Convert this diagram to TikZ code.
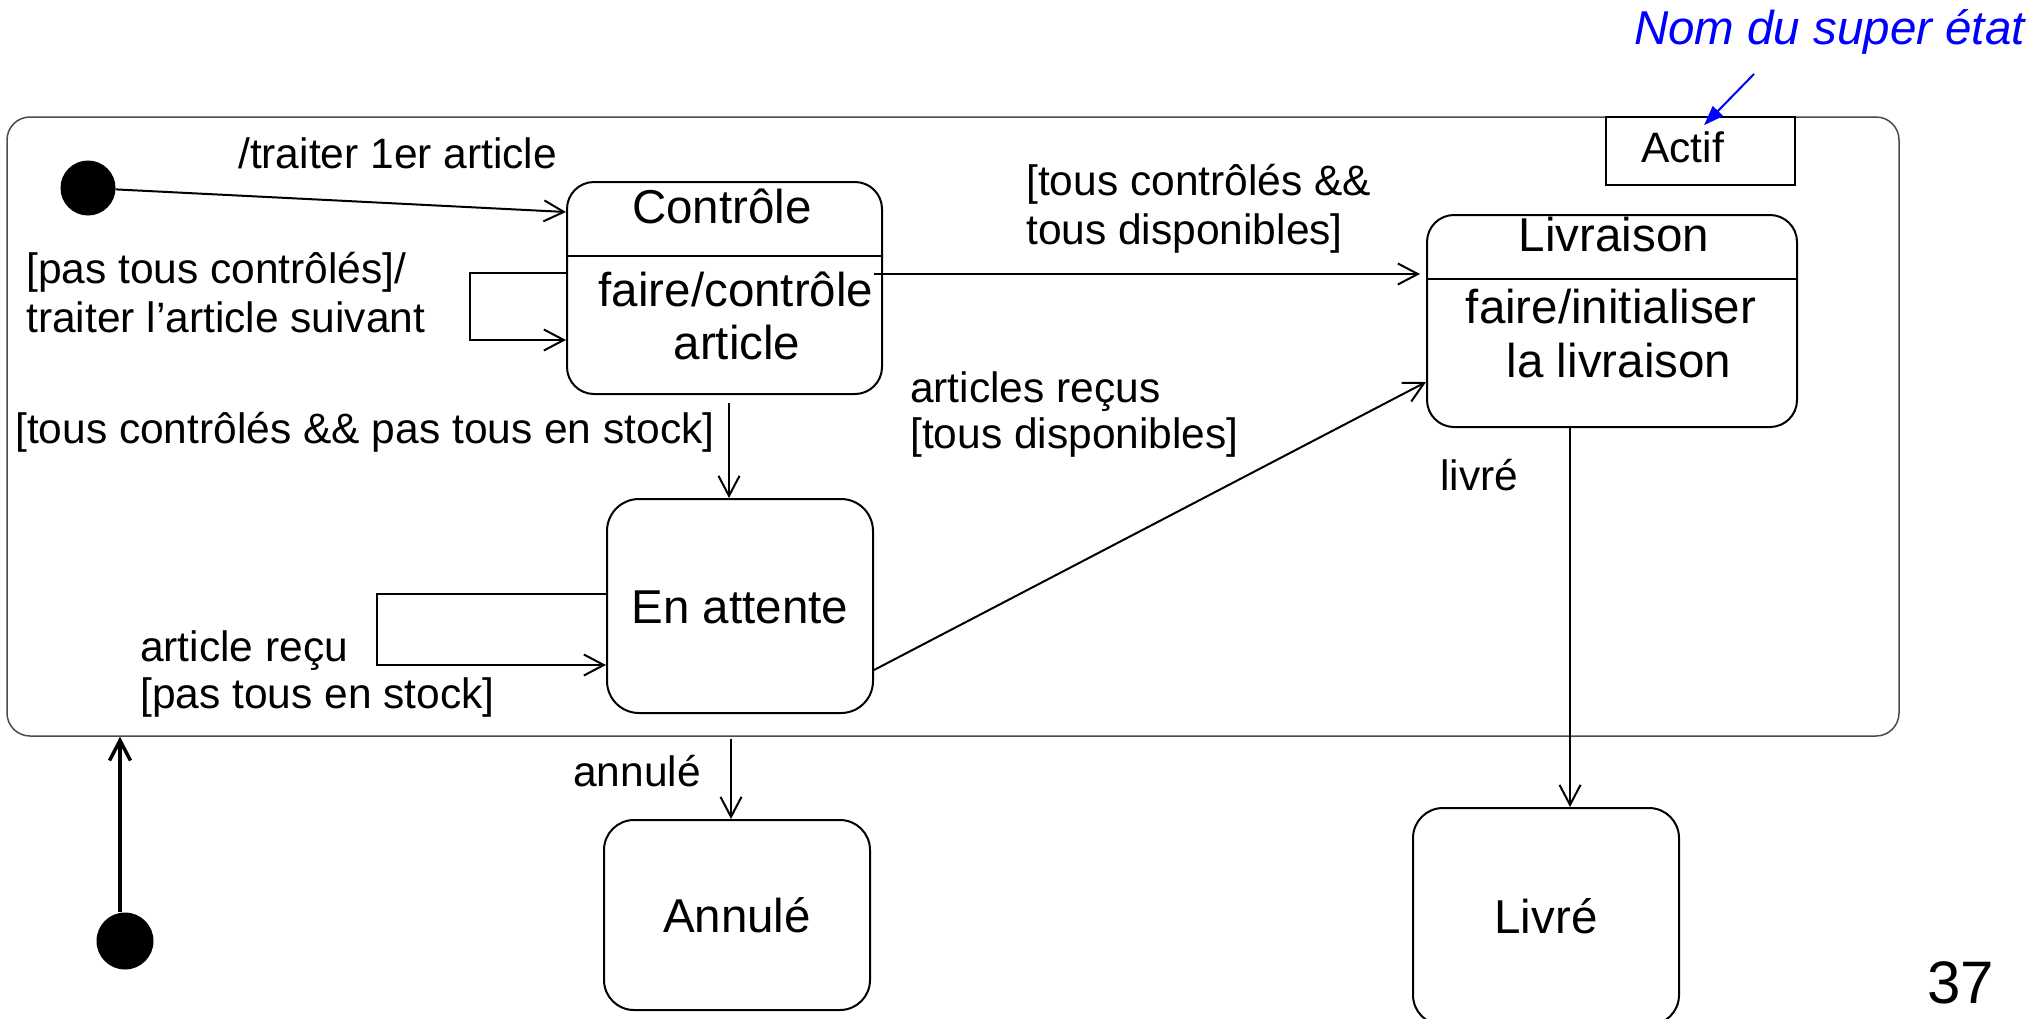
\documentclass[tikz,border=0pt]{standalone}
\usepackage{fontspec}
\setmainfont{Liberation Sans}
\usetikzlibrary{arrows.meta}
\begin{document}
\begin{tikzpicture}[x=1pt,y=-1pt,
  lbl/.style={inner sep=0pt, anchor=base west, font=\fontsize{42.5pt}{49pt}\selectfont},
  stxt/.style={inner sep=0pt, anchor=base, font=\fontsize{47.5pt}{54pt}\selectfont},
  stname/.style={font=\fontsize{47.5pt}{54pt}\selectfont, text height=34pt, text depth=0pt},
  statebox/.style={draw, line width=2pt, rounded corners=#1, inner sep=0pt},
  statebox/.default=27pt,
  dot/.style={circle, fill=black, inner sep=0pt},
  arr/.style={line width=2pt, -{Straight Barb[length=20pt,width=21pt]}},
  bluearr/.style={draw=blue, line width=2pt, -{Triangle[length=20pt,width=14pt]}}
]
\path[fill=white, use as bounding box] (0,0) rectangle (2041,1018);

% super state
\node[draw=black!70, line width=1.5pt, rounded corners=23pt, minimum width=1892pt, minimum height=619pt, inner sep=0pt] (super) at (953,426.5) {};
\node[draw, line width=1.5pt, fill=white, minimum width=189pt, minimum height=68pt, inner sep=0pt] (actif) at (1700.5,151) {};
\node[lbl] (actiftxt) at (1641,162) {Actif};

% note
\node[inner sep=0pt, anchor=base east, text=blue, font=\fontsize{47.5pt}{54pt}\selectfont\itshape] (nom) at (2025,44) {Nom du super état};
\coordinate (nomfoot) at (1754,74);
\draw[bluearr] (nomfoot) -- ([xshift=3.5pt,yshift=-9pt]actif.north);

% initial states
\node[dot, minimum size=55pt] (init1) at (88,188) {};
\node[dot, minimum size=57pt] (init2) at (125,941) {};

% Controle
\node[statebox=27pt, minimum width=315pt, minimum height=212pt] (ctrl) at (724.5,288) {};
\node[stxt] (ctrlname) at (722,223) {Contrôle};
\draw[line width=2pt] ([yshift=32pt]ctrl.west) -- ([yshift=32pt]ctrl.east);
\node[stxt] (ctrldo1) at (736,306) {faire/contrôle};
\node[stxt] (ctrldo2) at (737,359) {article};

% Livraison
\node[statebox=27pt, minimum width=370pt, minimum height=212pt] (livr) at (1612,321) {};
\node[stxt] (livrname) at (1614,251) {Livraison};
\draw[line width=2pt] ([yshift=42pt]livr.west) -- ([yshift=42pt]livr.east);
\node[stxt] (livrdo1) at (1611,323) {faire/initialiser};
\node[stxt] (livrdo2) at (1619,377) {la livraison};

% simple states
\node[statebox=32pt, stname, minimum width=266pt, minimum height=214pt] (att) at (740,606) {En attente};
\node[statebox=30pt, stname, minimum width=266pt, minimum height=190pt] (ann) at (737,915) {Annulé};
\node[statebox=30pt, stname, minimum width=266pt, minimum height=217pt] (livre) at (1546,916.5) {Livré};

% labels
\node[lbl] (t1) at (238,168) {/traiter 1er article};
\node[lbl] (t2a) at (26,283) {[pas tous contrôlés]/};
\node[lbl] (t2b) at (26,332) {traiter l’article suivant};
\node[lbl] (t3) at (15,443) {[tous contrôlés \&\& pas tous en stock]};
\node[lbl] (t4a) at (1026,195) {[tous contrôlés \&\&};
\node[lbl] (t4b) at (1026,244) {tous disponibles]};
\node[lbl] (t5a) at (910,402) {articles reçus};
\node[lbl] (t5b) at (910,448) {[tous disponibles]};
\node[lbl] (t6) at (1440,490) {livré};
\node[lbl] (t7a) at (140,661) {article reçu};
\node[lbl] (t7b) at (140,708) {[pas tous en stock]};
\node[lbl] (t8) at (573,786) {annulé};
\node[inner sep=0pt, anchor=base west, font=\fontsize{60pt}{70pt}\selectfont] (pagenum) at (1927,1003) {37};

% transitions
\draw[arr] (init1) -- ([yshift=76pt]ctrl.west);
\draw[arr] ([yshift=15pt]ctrl.west) -- ++(-96,0) |- ([yshift=-52pt]ctrl.west);
\draw[arr] ([xshift=-9pt,yshift=14pt]ctrl.east) -- ([xshift=-6pt,yshift=47pt]livr.west);
\coordinate (cdown) at ([xshift=4.5pt,yshift=-8pt]ctrl.south);
\draw[arr] (cdown) -- (cdown |- att.north);
\draw[arr] ([yshift=12pt]att.west) -- ++(-229,0) |- ([yshift=-59pt]att.west);
\draw[arr] ([yshift=-64pt]att.east) -- ([yshift=-61pt]livr.west);
\coordinate (cup) at ([xshift=-5pt]init2.north);
\draw[arr, line width=3.5pt] (cup) -- (cup |- super.south);
\coordinate (cann) at ([xshift=-6pt]ann.north);
\draw[arr] (cann |- super.south) ++(0,2) -- (cann);
\draw[arr] ([xshift=-42pt]livr.south) -- ([xshift=24pt]livre.north);
\end{tikzpicture}
\end{document}
